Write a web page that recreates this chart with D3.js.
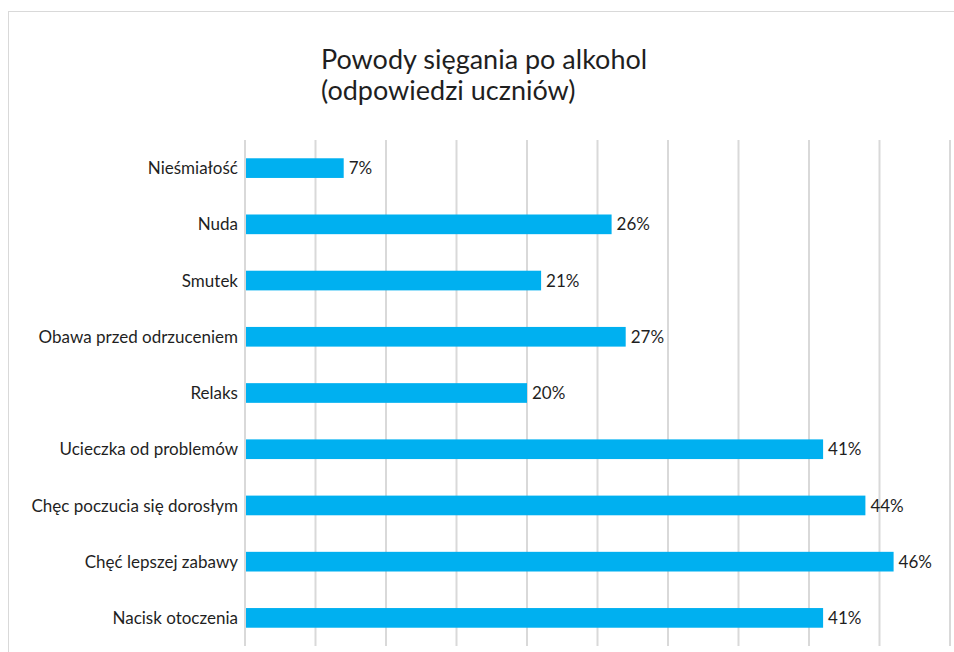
<!DOCTYPE html>
<html>
<head>
<meta charset="utf-8">
<script src="https://cdn.jsdelivr.net/npm/d3@7"></script>
<style>
  body { margin: 0; background: #fff; }
  text { font-family: Lato, "Open Sans", sans-serif; fill: #1f1f1f; }
</style>
</head>
<body>
<div id="chart"></div>
<script>
const categories = [
  "Nieśmiałość",
  "Nuda",
  "Smutek",
  "Obawa przed odrzuceniem",
  "Relaks",
  "Ucieczka od problemów",
  "Chęc poczucia się dorosłym",
  "Chęć lepszej zabawy",
  "Nacisk otoczenia"
];
const values = [7, 26, 21, 27, 20, 41, 44, 46, 41];
const gridTicks = [0, 5, 10, 15, 20, 25, 30, 35, 40, 45, 50];
const titleLines = ["Powody sięgania po alkohol", "(odpowiedzi uczniów)"];

let width = 954;
let height = 652;

const svg = d3.select("#chart")
  .append("svg")
  .attr("width", width)
  .attr("height", height);

// outer chart border (runs past the bottom/right of the picture)
svg.append("rect")
  .attr("x", 8.5)
  .attr("y", 11.5)
  .attr("width", 960)
  .attr("height", 660)
  .attr("fill", "none")
  .attr("stroke", "#d9d9d9");

const x = d3.scaleLinear().domain([0, 50]).range([245, 950]);
const y = d3.scaleBand().domain(categories).range([140, 646]).paddingInner(0.65).paddingOuter(0.325);

// vertical gridlines
svg.append("g")
  .selectAll("line")
  .data(gridTicks)
  .join("line")
  .attr("x1", d => x(d))
  .attr("x2", d => x(d))
  .attr("y1", 140)
  .attr("y2", 646)
  .attr("stroke", "#d9d9d9")
  .attr("stroke-width", 2);

// title
svg.append("text")
  .attr("x", 321)
  .attr("y", 69)
  .attr("font-size", 27)
  .selectAll("tspan")
  .data(titleLines)
  .join("tspan")
  .attr("x", 321)
  .attr("dy", (d, i) => i ? 31 : 0)
  .text(d => d);

// bars
svg.append("g")
  .selectAll("rect")
  .data(values)
  .join("rect")
  .attr("x", x(0) + 1)
  .attr("y", (d, i) => y(categories[i]))
  .attr("width", d => x(d) - x(0) - 1)
  .attr("height", y.bandwidth())
  .attr("fill", "#00b0f0");

// value labels
svg.append("g")
  .selectAll("text")
  .data(values)
  .join("text")
  .attr("x", d => x(d) + 5)
  .attr("y", (d, i) => y(categories[i]) + y.bandwidth() / 2)
  .attr("dy", "0.36em")
  .attr("font-size", 17)
  .text(d => d + "%");

// category labels
svg.append("g")
  .selectAll("text")
  .data(categories)
  .join("text")
  .attr("x", 238)
  .attr("y", d => y(d) + y.bandwidth() / 2)
  .attr("dy", "0.36em")
  .attr("text-anchor", "end")
  .attr("font-size", 17)
  .text(d => d);
</script>
</body>
</html>
